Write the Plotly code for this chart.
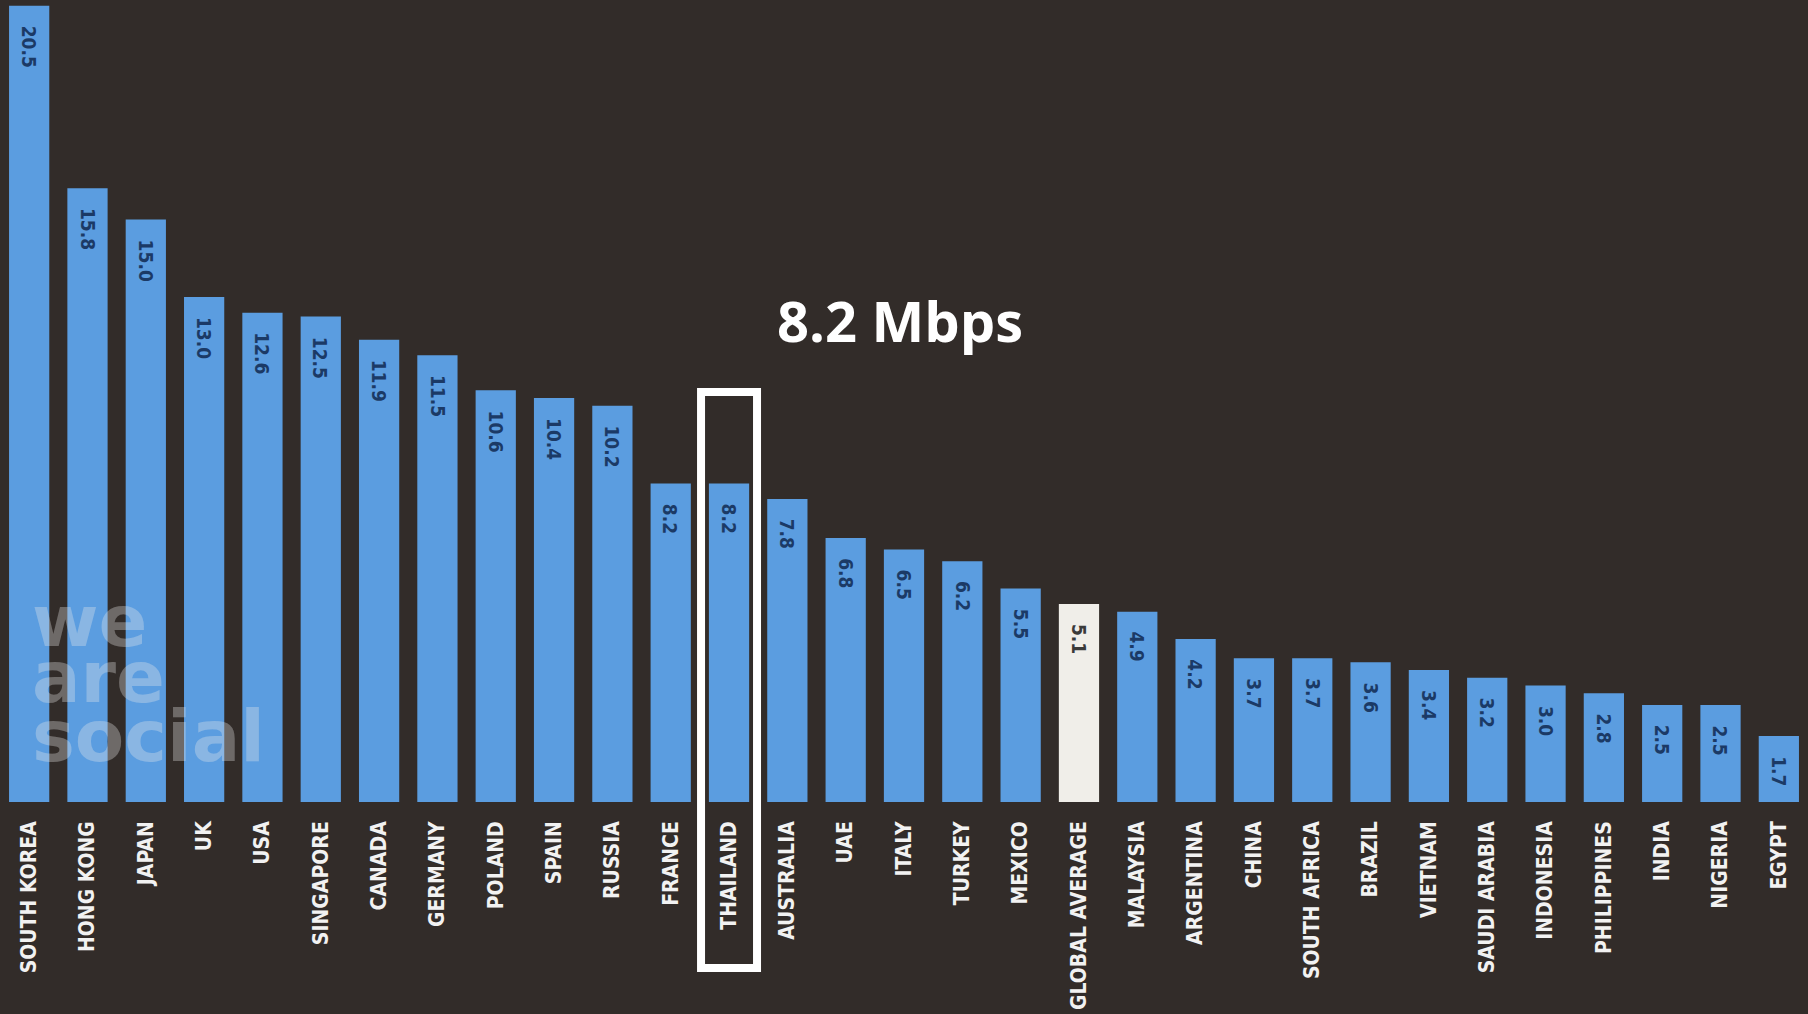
import plotly.graph_objects as go

countries = ["SOUTH KOREA", "HONG KONG", "JAPAN", "UK", "USA", "SINGAPORE", "CANADA",
             "GERMANY", "POLAND", "SPAIN", "RUSSIA", "FRANCE", "THAILAND", "AUSTRALIA",
             "UAE", "ITALY", "TURKEY", "MEXICO", "GLOBAL AVERAGE", "MALAYSIA", "ARGENTINA",
             "CHINA", "SOUTH AFRICA", "BRAZIL", "VIETNAM", "SAUDI ARABIA", "INDONESIA",
             "PHILIPPINES", "INDIA", "NIGERIA", "EGYPT"]
speeds = [20.5, 15.8, 15.0, 13.0, 12.6, 12.5, 11.9, 11.5, 10.6, 10.4, 10.2, 8.2, 8.2,
          7.8, 6.8, 6.5, 6.2, 5.5, 5.1, 4.9, 4.2, 3.7, 3.7, 3.6, 3.4, 3.2, 3.0, 2.8,
          2.5, 2.5, 1.7]
highlight_country = "THAILAND"
highlight_label = "8.2 Mbps"
average_label = "GLOBAL AVERAGE"
watermark_lines = ["we", "are", "social"]

BG = "#322c29"
BLUE = "#5b9de0"
AVG = "#f0eee9"

bar_colors = [AVG if c == average_label else BLUE for c in countries]

fig = go.Figure(go.Bar(
    x=countries, y=speeds, marker_color=bar_colors, marker_line_width=0,
    hoverinfo="skip",
))

narrow = "DejaVu Sans Condensed, Liberation Sans Narrow, Arial Narrow, sans-serif"

annotations = []
for c, v in zip(countries, speeds):
    annotations.append(dict(
        x=c, y=v, xref="x", yref="y", text=f"{v:.1f}", showarrow=False,
        textangle=90, yanchor="top", xanchor="center", yshift=-18,
        font=dict(family=narrow, size=19, weight="bold",
                  color="#3a3a3a" if c == average_label else "#1b3a66"),
    ))

annotations.append(dict(
    x=900 / 1808, y=(802 - 320) / 802, xref="paper", yref="paper",
    text=f"<b>{highlight_label}</b>", showarrow=False, xanchor="center", yanchor="middle",
    font=dict(family="Open Sans, sans-serif", size=56, color="white"),
))

wm_y = [621, 677, 736]
for line, py in zip(watermark_lines, wm_y):
    annotations.append(dict(
        x=30 / 1808, y=(802 - py) / 802, xref="paper", yref="paper",
        text=f"<b>{line}</b>", showarrow=False, xanchor="left", yanchor="middle",
        font=dict(family="DejaVu Sans, sans-serif", size=72,
                  color="rgba(235,235,235,0.33)"),
    ))

hi = countries.index(highlight_country)
shapes = [dict(
    type="rect", xref="x", yref="paper",
    x0=hi - 0.48, x1=hi + 0.48,
    y0=(802 - 968) / 802, y1=(802 - 392) / 802,
    line=dict(color="white", width=8), fillcolor="rgba(0,0,0,0)",
)]

fig.update_layout(
    width=1808, height=1014,
    margin=dict(l=0, r=0, t=0, b=212),
    paper_bgcolor=BG, plot_bgcolor=BG,
    bargap=0.31,
    showlegend=False,
    annotations=annotations,
    shapes=shapes,
    xaxis=dict(
        tickangle=-90, showgrid=False, zeroline=False, showline=False,
        ticks="", ticklabelstandoff=14,
        tickfont=dict(family=narrow, size=21, weight="bold", color="#f2f2f2"),
        fixedrange=True,
    ),
    yaxis=dict(visible=False, range=[0, 20.65], fixedrange=True),
)

fig.write_html(
    "out.html",
    config={"displayModeBar": False},
    post_script="document.body.style.margin='0';document.body.style.background='#322c29';",
)
